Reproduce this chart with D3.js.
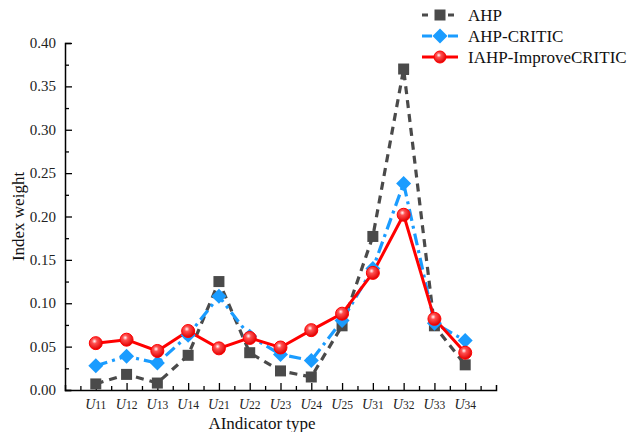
<!DOCTYPE html>
<html lang="en">
<head>
<meta charset="UTF-8">
<script src="https://cdn.jsdelivr.net/npm/d3@7"></script>
<style>
  body { margin: 0; background: #fff; }
  svg text { font-family: "Liberation Serif", "Times New Roman", serif; }
</style>
</head>
<body>
<script>
// indicator categories
var categories = ["11", "12", "13", "14", "21", "22", "23", "24", "25", "31", "32", "33", "34"];
var ahp       = [0.007, 0.018, 0.008, 0.040, 0.125, 0.043, 0.022, 0.015, 0.074, 0.177, 0.370, 0.074, 0.029];
var ahpCritic = [0.028, 0.039, 0.031, 0.063, 0.108, 0.062, 0.041, 0.034, 0.080, 0.140, 0.238, 0.077, 0.057];
var iahp      = [0.054, 0.058, 0.045, 0.068, 0.048, 0.060, 0.049, 0.069, 0.088, 0.135, 0.202, 0.082, 0.043];
var yTicks = [0, 0.05, 0.10, 0.15, 0.20, 0.25, 0.30, 0.35, 0.40];
var seriesNames = ["AHP", "AHP-CRITIC", "IAHP-ImproveCRITIC"];

var W = 634, H = 432;
var margin = {top: 43, right: 138, bottom: 42, left: 65};
var width = W - margin.left - margin.right,
    height = H - margin.top - margin.bottom;

var svg = d3.select("body").append("svg")
    .attr("width", W).attr("height", H);

var defs = svg.append("defs");
var grad = defs.append("radialGradient").attr("id", "ball")
    .attr("cx", "40%").attr("cy", "35%").attr("r", "65%");
grad.append("stop").attr("offset", "0%").attr("stop-color", "#ffffff");
grad.append("stop").attr("offset", "30%").attr("stop-color", "#ff5050");
grad.append("stop").attr("offset", "100%").attr("stop-color", "#e00000");

var g = svg.append("g")
    .attr("transform", "translate(" + margin.left + "," + margin.top + ")");

var x = d3.scaleLinear().domain([0, categories.length + 1]).range([0, width]);
var y = d3.scaleLinear().domain([0, 0.40]).range([height, 0]);

// axes (ticks pointing inward)
var xAxis = d3.axisBottom(x)
    .tickValues(d3.range(0.5, categories.length + 1, 0.5))
    .tickSize(-5).tickFormat("");
var xg = g.append("g").attr("transform", "translate(0," + height + ")").call(xAxis);
xg.selectAll(".tick line").attr("y2", d => Number.isInteger(d) ? -7 : -4);

var yAxis = d3.axisLeft(y).tickValues(d3.range(0, 0.401, 0.025))
    .tickSize(-6).tickFormat("");
var yg = g.append("g").call(yAxis);
yg.selectAll(".tick line").attr("x2", (d, i) => i % 2 === 0 ? 7 : 4);

[xg, yg].forEach(function(a) {
  a.select(".domain").attr("stroke", "#000").attr("stroke-width", 1.5);
  a.selectAll(".tick line").attr("stroke", "#000").attr("stroke-width", 1.3);
});

g.selectAll(".ylab").data(yTicks).enter().append("text")
    .attr("x", -9).attr("y", d => y(d) + 5)
    .attr("text-anchor", "end").attr("font-size", 15).attr("fill", "#222")
    .text(d => d.toFixed(2));

var xl = g.selectAll(".xlab").data(categories).enter().append("text")
    .attr("x", (d, i) => x(i + 1)).attr("y", height + 19)
    .attr("text-anchor", "middle").attr("fill", "#222");
xl.append("tspan").attr("font-style", "italic").attr("font-size", 14).text("U");
xl.append("tspan").attr("font-size", 11.5).text(d => d);

svg.append("text")
    .attr("transform", "translate(24," + (margin.top + height / 2) + ") rotate(-90)")
    .attr("text-anchor", "middle").attr("font-size", 17).attr("fill", "#111")
    .text("Index weight");
svg.append("text")
    .attr("x", 262).attr("y", 429)
    .attr("text-anchor", "middle").attr("font-size", 17).attr("fill", "#111")
    .text("AIndicator type");

var line = d3.line().x((d, i) => x(i + 1)).y(d => y(d));

// AHP
g.append("path").datum(ahp).attr("d", line).attr("fill", "none")
    .attr("stroke", "#4a4a4a").attr("stroke-width", 3.2).attr("stroke-dasharray", "8,6");
// AHP-CRITIC
g.append("path").datum(ahpCritic).attr("d", line).attr("fill", "none")
    .attr("stroke", "#1a9cff").attr("stroke-width", 3.2).attr("stroke-dasharray", "12,5,3,5");
// IAHP-ImproveCRITIC
g.append("path").datum(iahp).attr("d", line).attr("fill", "none")
    .attr("stroke", "#ff0000").attr("stroke-width", 3);

function square(sel, cx, cy, s) {
  sel.append("rect").attr("x", cx - s / 2).attr("y", cy - s / 2)
     .attr("width", s).attr("height", s).attr("fill", "#4a4a4a");
}
function diamond(sel, cx, cy, s) {
  sel.append("path").attr("transform", "translate(" + cx + "," + cy + ")")
     .attr("d", "M0," + (-s) + "L" + s + ",0L0," + s + "L" + (-s) + ",0Z")
     .attr("fill", "#1a9cff");
}
function ball(sel, cx, cy, r) {
  sel.append("circle").attr("cx", cx).attr("cy", cy).attr("r", r)
     .attr("fill", "url(#ball)").attr("stroke", "#ff0000").attr("stroke-width", 1);
}

ahp.forEach((d, i) => square(g, x(i + 1), y(d), 11));
ahpCritic.forEach((d, i) => diamond(g, x(i + 1), y(d), 7.5));
iahp.forEach((d, i) => ball(g, x(i + 1), y(d), 6.5));

// legend
var lg = svg.append("g");
var ly = [15, 36, 57];
lg.append("line").attr("x1", 422).attr("x2", 458).attr("y1", ly[0]).attr("y2", ly[0])
    .attr("stroke", "#4a4a4a").attr("stroke-width", 3.2).attr("stroke-dasharray", "6,7");
square(lg, 440, ly[0], 11);
lg.append("line").attr("x1", 422).attr("x2", 458).attr("y1", ly[1]).attr("y2", ly[1])
    .attr("stroke", "#1a9cff").attr("stroke-width", 3.2).attr("stroke-dasharray", "10,3");
diamond(lg, 440, ly[1], 7.5);
lg.append("line").attr("x1", 422).attr("x2", 458).attr("y1", ly[2]).attr("y2", ly[2])
    .attr("stroke", "#ff0000").attr("stroke-width", 3);
ball(lg, 440, ly[2], 6);
lg.selectAll(".lt").data(seriesNames).enter().append("text")
    .attr("x", 468).attr("y", (d, i) => ly[i] + 6)
    .attr("font-size", 17).attr("fill", "#111").text(d => d);
// stray legend mark
square(lg, 405, 71, 8);
</script>
</body>
</html>
